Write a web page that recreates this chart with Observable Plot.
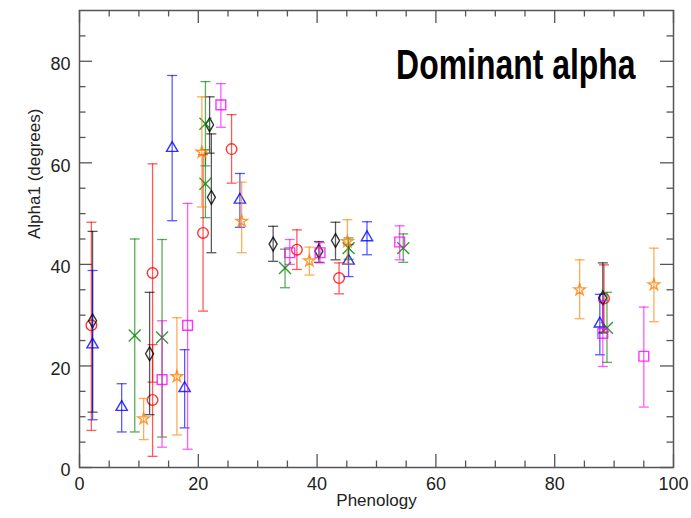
<!DOCTYPE html>
<html>
<head>
<meta charset="utf-8">
<script src="https://cdn.jsdelivr.net/npm/d3@7"></script>
<script src="https://cdn.jsdelivr.net/npm/@observablehq/plot@0.6"></script>
<style>
  html, body { margin: 0; padding: 0; background: #fff; }
</style>
</head>
<body>
<div id="chart"></div>
<script>
// Tick values
const xMajor = [0, 20, 40, 60, 80, 100];
const xMinor = [5, 10, 15, 25, 30, 35, 45, 50, 55, 65, 70, 75, 85, 90, 95];
const yMajor = [0, 20, 40, 60, 80];
const yMinor = [5, 10, 15, 25, 30, 35, 45, 50, 55, 65, 70, 75, 85];

// Red circles
const redX  = [2.0, 12.3, 12.3, 20.8, 25.6, 36.6, 43.7, 88.3];
const redY  = [28.0, 38.3, 13.3, 46.2, 62.7, 42.9, 37.3, 33.3];
const redLo = [7.3, 16.8, 2.2, 30.8, 56.0, 39.0, 34.2, 26.7];
const redHi = [48.3, 59.8, 24.2, 61.6, 69.5, 46.8, 40.3, 39.9];

// Black diamonds
const blackX  = [2.2, 11.8, 21.9, 22.2, 32.6, 40.3, 43.1, 88.1];
const blackY  = [28.9, 22.4, 67.5, 53.2, 44.0, 42.6, 44.7, 33.4];
const blackLo = [10.9, 10.4, 61.9, 42.3, 40.6, 40.4, 40.9, 26.5];
const blackHi = [46.5, 34.5, 73.0, 65.7, 47.5, 44.5, 48.3, 40.3];

// Blue triangles
const blueX  = [2.2, 7.1, 15.6, 17.7, 27.0, 45.3, 48.4, 87.6];
const blueY  = [24.2, 11.9, 62.9, 15.6, 52.7, 40.7, 45.3, 28.3];
const blueLo = [9.4, 7.0, 48.6, 7.8, 47.3, 37.6, 41.9, 22.2];
const blueHi = [38.8, 16.5, 77.2, 23.2, 57.9, 43.9, 48.4, 34.1];

// Green crosses
const greenX  = [9.3, 13.9, 21.2, 21.2, 34.6, 45.3, 54.5, 88.8];
const greenY  = [26.0, 25.6, 67.7, 55.9, 39.3, 43.2, 43.2, 27.5];
const greenLo = [7.0, 6.0, 59.4, 49.2, 35.4, 41.0, 40.4, 20.7];
const greenHi = [45.0, 44.9, 76.0, 62.6, 43.0, 45.2, 46.0, 34.5];

// Orange stars
const orangeX  = [10.8, 16.4, 20.6, 27.3, 38.7, 45.1, 84.2, 96.7];
const orangeY  = [9.6, 17.9, 62.1, 48.5, 40.7, 44.5, 35.0, 36.0];
const orangeLo = [5.5, 6.4, 51.3, 42.3, 37.9, 40.1, 29.3, 28.7];
const orangeHi = [13.6, 29.5, 73.0, 56.2, 43.4, 48.8, 40.9, 43.2];

// Magenta squares
const magentaX  = [13.9, 18.2, 23.8, 35.4, 40.5, 53.9, 88.1, 95.0];
const magentaY  = [17.3, 28.0, 71.4, 42.3, 42.3, 44.4, 26.4, 21.9];
const magentaLo = [4.0, 3.6, 67.0, 40.0, 40.3, 40.9, 19.9, 11.9];
const magentaHi = [28.9, 52.0, 75.6, 44.9, 44.3, 47.6, 32.9, 31.6];

const titleText = "Dominant alpha";
const xLabel = "Phenology";
const yLabel = "Alpha1 (degrees)";

function series(xs, ys, los, his) {
  return xs.map((x, i) => ({x, y: ys[i], lo: los[i], hi: his[i]}));
}

const groups = [
  {data: series(redX, redY, redLo, redHi), color: "#ff0000", symbol: "circle", r: 5.3},
  {data: series(blackX, blackY, blackLo, blackHi), color: "#000000", symbol: "diamond", r: 4.2},
  {data: series(blueX, blueY, blueLo, blueHi), color: "#0000ff", symbol: "triangle", r: 4.2},
  {data: series(greenX, greenY, greenLo, greenHi), color: "#008000", symbol: "times", r: 5.5},
  {data: series(orangeX, orangeY, orangeLo, orangeHi), color: "#ff7f00", symbol: "star", r: 3.6},
  {data: series(magentaX, magentaY, magentaLo, magentaHi), color: "#ff00ff", symbol: "square", r: 5.5}
];

const capSymbol = {
  draw(ctx) { ctx.moveTo(-5, 0); ctx.lineTo(5, 0); }
};

const W = 691, H = 518, mL = 79, mR = 18, mT = 10, mB = 51;
const plotW = W - mL - mR, plotH = H - mT - mB;
const axisColor = "#555";

const marks = [];
for (const g of groups) {
  marks.push(Plot.ruleX(g.data, {x: "x", y1: "lo", y2: "hi", stroke: g.color, strokeOpacity: 0.65, strokeWidth: 1.3}));
  marks.push(Plot.dot(g.data, {x: "x", y: "lo", symbol: capSymbol, stroke: g.color, fill: "none", strokeOpacity: 0.65, strokeWidth: 1.3}));
  marks.push(Plot.dot(g.data, {x: "x", y: "hi", symbol: capSymbol, stroke: g.color, fill: "none", strokeOpacity: 0.65, strokeWidth: 1.3}));
  marks.push(Plot.dot(g.data, {x: "x", y: "y", symbol: g.symbol, r: g.r, stroke: g.color, fill: "none", strokeOpacity: 0.8, strokeWidth: 1.4}));
}

const plot = Plot.plot({
  width: W, height: H,
  marginLeft: mL, marginRight: mR, marginTop: mT, marginBottom: mB,
  style: {fontFamily: "'Liberation Sans', Arial, sans-serif", background: "#fff"},
  x: {domain: [0, 100]},
  y: {domain: [0, 90]},
  marks: [
    // inward ticks
    Plot.ruleX(xMajor, {x: d => d, stroke: axisColor, strokeWidth: 1.3, insetTop: plotH - 13}),
    Plot.ruleX(xMajor, {x: d => d, stroke: axisColor, strokeWidth: 1.3, insetBottom: plotH - 13}),
    Plot.ruleX(xMinor, {x: d => d, stroke: axisColor, strokeWidth: 1.3, insetTop: plotH - 6.5}),
    Plot.ruleX(xMinor, {x: d => d, stroke: axisColor, strokeWidth: 1.3, insetBottom: plotH - 6.5}),
    Plot.ruleY(yMajor, {y: d => d, stroke: axisColor, strokeWidth: 1.3, insetRight: plotW - 13}),
    Plot.ruleY(yMajor, {y: d => d, stroke: axisColor, strokeWidth: 1.3, insetLeft: plotW - 13}),
    Plot.ruleY(yMinor, {y: d => d, stroke: axisColor, strokeWidth: 1.3, insetRight: plotW - 6.5}),
    Plot.ruleY(yMinor, {y: d => d, stroke: axisColor, strokeWidth: 1.3, insetLeft: plotW - 6.5}),
    Plot.axisX(xMajor, {tickSize: 0, tickPadding: 10, fontSize: 18, label: null, fill: "#222"}),
    Plot.axisY(yMajor, {tickSize: 0, tickPadding: 9, fontSize: 18, label: null, dy: 3, fill: "#222"}),
    ...marks,
    Plot.frame({stroke: axisColor, strokeWidth: 1.5}),
    Plot.text([titleText], {frameAnchor: "top-right", textAnchor: "end", dx: -38, dy: 39,
      fontSize: 42, fontWeight: "bold", fill: "#000"}),
    Plot.text([xLabel], {frameAnchor: "bottom", dy: 38, fontSize: 17, fill: "#222"}),
    Plot.text([yLabel], {frameAnchor: "left", dx: -45, rotate: -90, fontSize: 17, fill: "#222"})
  ]
});

// condense the title horizontally
plot.querySelectorAll("text").forEach(t => {
  if (t.textContent === titleText) {
    const tr = t.getAttribute("transform") || "";
    t.setAttribute("transform", tr + " scale(0.76,1)");
  }
});

document.getElementById("chart").appendChild(plot);
</script>
</body>
</html>
